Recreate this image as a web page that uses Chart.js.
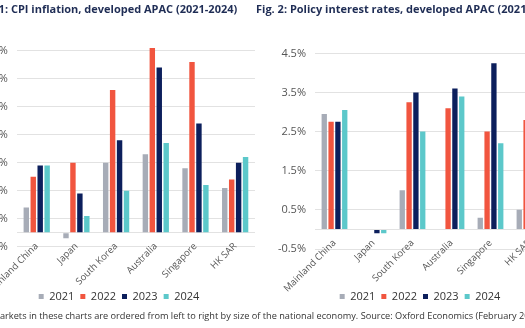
<!DOCTYPE html>
<html>
<head>
<meta charset="utf-8">
<script src="https://cdn.jsdelivr.net/npm/chart.js@4"></script>
<style>
html, body { margin: 0; padding: 0; background: #fff; width: 525px; height: 328px; overflow: hidden; position: relative; }
.box { position: absolute; top: 0; height: 312px; }
#cpiBox { left: -23px; width: 284px; }
#rateBox { left: 256px; width: 328px; }
#note { position: absolute; top: 309px; white-space: nowrap; font: 9.2px "Open Sans"; color: #333; }
</style>
</head>
<body>
<div class="box" id="cpiBox"><canvas id="cpiChart"></canvas></div>
<div class="box" id="rateBox"><canvas id="rateChart"></canvas></div>
<div id="note">Note: Markets in these charts are ordered from left to right by size of the national economy. Source: Oxford Economics (February 2023)</div>
<script>
const markets = ["Mainland China", "Japan", "South Korea", "Australia", "Singapore", "HK SAR"];
const years = ["2021", "2022", "2023", "2024"];

// CPI inflation, % y/y
const cpi2021 = [0.9, -0.2, 2.5, 2.8, 2.3, 1.6];
const cpi2022 = [2.0, 2.5, 5.1, 6.6, 6.1, 1.9];
const cpi2023 = [2.4, 1.4, 3.3, 5.9, 3.9, 2.5];
const cpi2024 = [2.4, 0.6, 1.5, 3.2, 1.7, 2.7];
const cpiTicks = [-0.5, 0, 0.5, 1.5, 2.5, 3.5, 4.5, 5.5, 6.5];

// policy interest rates, %
const rate2021 = [2.95, null, 1.0, null, 0.3, 0.5];
const rate2022 = [2.75, null, 3.25, 3.1, 2.5, 2.8];
const rate2023 = [2.75, -0.1, 3.5, 3.6, 4.25, 4.4];
const rate2024 = [3.05, -0.1, 2.5, 3.4, 2.2, 3.3];
const rateTicks = [-0.5, 0, 0.5, 1.5, 2.5, 3.5, 4.5];

const colors = ["#a7acb7", "#f1553f", "#0c1f5c", "#5cc8ca"];

function makeChart(id, title, series, yMax, tickVals, axisWidth, rightGap, titleGap, legendGap) {
    new Chart(document.getElementById(id), {
        type: "bar",
        data: {
            labels: markets,
            datasets: series.map((d, i) => ({
                label: years[i],
                data: d,
                backgroundColor: colors[i],
                barPercentage: 0.78,
                categoryPercentage: 0.7
            }))
        },
        options: {
            responsive: true,
            maintainAspectRatio: false,
            animation: false,
            layout: { padding: 0 },
            scales: {
                x: {
                    // labels hang from the zero line, like in the source
                    position: { y: 0 },
                    grid: { display: false, drawTicks: false },
                    border: { display: false },
                    ticks: {
                        autoSkip: false,
                        maxRotation: 45,
                        minRotation: 45,
                        padding: 8,
                        color: "#555",
                        font: { family: "Open Sans", size: 9.5 }
                    }
                },
                y: {
                    min: -0.5,
                    max: yMax,
                    afterBuildTicks: function (scale) {
                        scale.ticks = tickVals.map(v => ({ value: v }));
                    },
                    afterFit: function (scale) {
                        scale.width = axisWidth;
                    },
                    grid: { color: "#e2e2e2", drawTicks: false },
                    border: { display: false },
                    ticks: {
                        padding: 9,
                        color: "#555",
                        font: { family: "Open Sans", size: 11 },
                        callback: function (value) {
                            if (value === 0) return "";
                            return value.toFixed(1) + "%";
                        }
                    }
                },
                // empty axis on the right, only keeps the gap next to the plot
                gap: {
                    position: "right",
                    display: true,
                    grid: { display: false },
                    border: { display: false },
                    ticks: { display: false },
                    afterFit: function (scale) {
                        scale.width = rightGap;
                    }
                }
            },
            plugins: {
                title: {
                    display: true,
                    text: title,
                    align: "start",
                    color: "#1f2d55",
                    padding: { top: 3, bottom: titleGap },
                    font: { family: "Open Sans", size: 11, weight: "bold" }
                },
                legend: {
                    position: "bottom",
                    // blank legend title = room for the slanted market names
                    title: {
                        display: true,
                        text: "",
                        font: { size: 10 },
                        padding: { top: 0, bottom: legendGap }
                    },
                    labels: {
                        boxWidth: 5,
                        boxHeight: 5,
                        padding: 6,
                        color: "#333",
                        font: { family: "Open Sans", size: 11 }
                    }
                },
                tooltip: { enabled: false }
            }
        }
    });
}

makeChart("cpiChart", "Fig. 1: CPI inflation, developed APAC (2021-2024)",
    [cpi2021, cpi2022, cpi2023, cpi2024], 7, cpiTicks, 34, 6, 20.5, 26.3);
makeChart("rateChart", "Fig. 2: Policy interest rates, developed APAC (2021-2024)",
    [rate2021, rate2022, rate2023, rate2024], 5, rateTicks, 59, 35, 17.6, 24);

// shift the note so that it is cut at the same place as the source
const note = document.getElementById("note");
const ctx = document.createElement("canvas").getContext("2d");
ctx.font = '9.2px "Open Sans"';
note.style.left = (-ctx.measureText("Note: M").width) + "px";
</script>
</body>
</html>
